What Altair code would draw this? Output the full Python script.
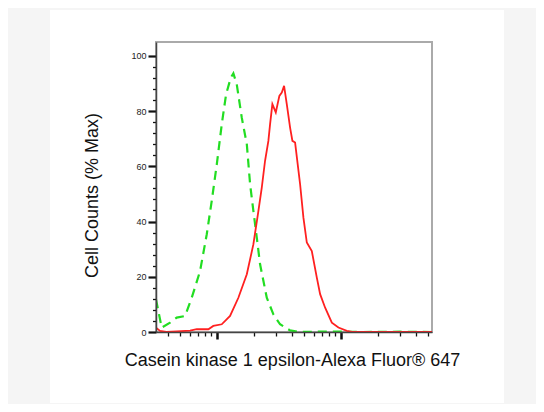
import altair as alt
import pandas as pd

# Isotype control (green dashed)
ctrl_x = [322, 358, 418, 473, 552, 625, 729, 826, 906, 995, 1091, 1182, 1290, 1353,
          1441, 1582, 1737, 1846, 1963, 2090, 2222, 2516, 2844, 3219, 3878, 4670,
          8000, 15000, 30000, 54000]
ctrl_y = [11.8, 1.6, 3.4, 5.2, 5.8, 12.4, 22, 35.4, 47.5, 60.7, 75.2, 86, 92.1, 93.6,
          89.7, 77.6, 68, 53.5, 43.8, 34.2, 24.5, 12.4, 6.4, 2.8, 0.6, 0,
          0.2, 0, 0.1, 0]

# Casein kinase 1 epsilon stained sample (red solid)
samp_x = [322, 347, 390, 473, 606, 686, 851, 933, 1091, 1273, 1485, 1737, 1963, 2153,
          2293, 2437, 2592, 2674, 2791, 2974, 3178, 3324, 3469, 3647, 3878, 4049, 4255,
          4670, 4966, 5289, 5803, 6369, 6772, 7432, 8415, 9513, 11120, 12270, 54000]
samp_y = [1.6, 0.4, 0, 0.2, 0.5, 1.0, 1.0, 2.2, 2.8, 5.8, 12.4, 20.9, 31.8, 43.8,
          52.3, 62, 69.2, 75.2, 82.5, 79.5, 85.5, 86.7, 89.1, 82.5, 74, 69.2, 68.6,
          53.5, 41.4, 32.4, 29.3, 19.7, 13.7, 8.8, 3.4, 1.6, 0.4, 0, 0]

x_ticks = [400, 500, 600, 700, 800, 900, 1000, 2000, 3000, 4000, 5000, 6000, 7000,
           8000, 9000, 10000, 20000, 30000, 40000, 50000]
y_ticks = list(range(0, 101, 4))

ctrl = pd.DataFrame({"x": ctrl_x, "y": ctrl_y, "s": "ctrl"})
samp = pd.DataFrame({"x": samp_x, "y": samp_y, "s": "samp"})

xscale = alt.Scale(type="log", domain=[322, 54000], nice=False)
yscale = alt.Scale(domain=[0, 105], nice=False, zero=False)

xaxis = alt.Axis(
    values=x_ticks, tickCount=200, labels=False, grid=False, zindex=2,
    tickSize={"condition": {"test": "datum.value == 1000 || datum.value == 10000", "value": 7}, "value": 4},
    tickWidth={"condition": {"test": "datum.value == 1000 || datum.value == 10000", "value": 2.5}, "value": 1.3},
    tickColor="#111", domainColor="#444", domainWidth=1.5,
    title="Casein kinase 1 epsilon-Alexa Fluor® 647",
    titleFont="Liberation Sans", titleFontSize=18, titleFontWeight="normal", titleColor="#111",
    titleX=136, titleY=19, titleBaseline="top",
)
yaxis = alt.Axis(
    values=y_ticks, tickCount=200, format="d", grid=False, zindex=2,
    labelOverlap=False, labelFlush=False,
    labelExpr="datum.value % 20 == 0 ? datum.label : ''",
    tickSize={"condition": {"test": "datum.value % 20 == 0", "value": 8}, "value": 3.5},
    tickWidth={"condition": {"test": "datum.value % 20 == 0", "value": 2.2}, "value": 1.3},
    tickColor="#111", domainColor="#444", domainWidth=1.5,
    labelFont="Liberation Sans", labelFontSize=9, labelColor="#222", labelPadding=2,
    title="Cell Counts (% Max)",
    titleFont="Liberation Sans", titleFontSize=18, titleFontWeight="normal", titleColor="#111",
    titleX=-64, titleY=153, titleBaseline="middle",
)

one = pd.DataFrame({"a": [0]})
panel = alt.Chart(one).mark_rect(color="white").encode(
    x=alt.value(-106), x2=alt.value(348), y=alt.value(-32), y2=alt.value(361)
)
frame = alt.Chart(one).mark_rect(filled=False, stroke="#aaaaaa", strokeWidth=2).encode(
    x=alt.value(0), x2=alt.value(276), y=alt.value(0), y2=alt.value(290)
)

green = alt.Chart(ctrl).mark_line(
    color="#22dd22", strokeWidth=2.2, strokeDash=[9, 6], clip=True
).encode(
    x=alt.X("x:Q", scale=xscale, axis=xaxis),
    y=alt.Y("y:Q", scale=yscale, axis=yaxis),
)

red = alt.Chart(samp).mark_line(
    color="#ff2020", strokeWidth=1.8, clip=True
).encode(
    x=alt.X("x:Q", scale=xscale),
    y=alt.Y("y:Q", scale=yscale),
)

chart = alt.layer(panel, frame, green, red).properties(
    width=276, height=290,
    autosize=alt.AutoSizeParams(type="none"),
    padding={"left": 148, "top": 34, "right": 104, "bottom": 72},
    background="#f5f5f5",
).configure_view(stroke=None)

chart.save("out.html", embed_options={"renderer": "svg", "actions": False})
